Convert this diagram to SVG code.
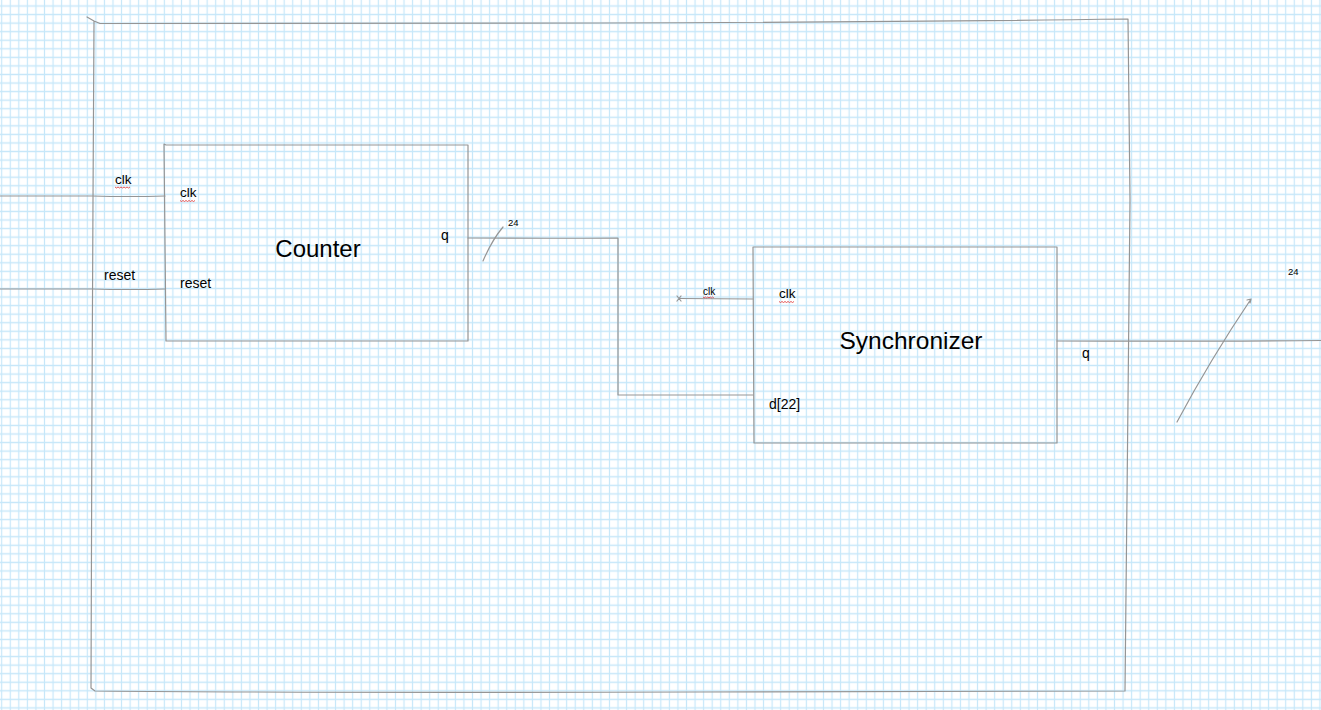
<svg xmlns="http://www.w3.org/2000/svg" width="1321" height="710" viewBox="0 0 1321 710">
<defs>
<pattern id="grid" x="-2.58" y="1.72" width="8.56" height="8.56" patternUnits="userSpaceOnUse">
<path d="M4.28 0V8.56M0 4.28H8.56" stroke="#c6e7f9" stroke-width="1.2" fill="none"/>
</pattern>
</defs>
<style>
.w{fill:none;stroke:#959595;stroke-width:1.2;stroke-linecap:round;stroke-linejoin:round}
.t{font-family:"Liberation Sans",Arial,sans-serif;fill:#000}
.sq{fill:none;stroke:#e03030;stroke-width:0.8}
</style>
<rect width="1321" height="710" fill="#fff"/>
<rect width="1321" height="710" fill="url(#grid)"/>

<g id="frame">
<path class="w" d="M87 17 L94 21 L100 23.5 Q300 24 600 23 Q900 22 1128 19 M1128 19 L1130 200 L1128 400 L1125 691 M94 21 L93 200 L92 400 L91 688 L95 691 Q300 693 700 692 Q1000 692 1125 691"/>
</g>

<g id="counter">
<path class="w" d="M164 144 L166 145 L468 145 L468 341 L166 341 Z"/>
<text class="t" x="318" y="257" font-size="24" text-anchor="middle">Counter</text>
<text class="t" x="180" y="197" font-size="13.5">clk</text>
<path class="sq" d="M180 200.5l1.5 1 1.5-1 1.5 1 1.5-1 1.5 1 1.5-1 1.5 1 1.5-1 1.5 1 1.5-1"/>
<text class="t" x="180" y="288" font-size="14">reset</text>
<text class="t" x="441" y="240" font-size="14">q</text>
</g>

<g id="synchronizer">
<path class="w" d="M753 247 L1057 247 L1057 443 L754 443 Z"/>
<text class="t" x="911" y="349" font-size="24.5" text-anchor="middle">Synchronizer</text>
<text class="t" x="779" y="298" font-size="13.5">clk</text>
<path class="sq" d="M779 301.5l1.5 1 1.5-1 1.5 1 1.5-1 1.5 1 1.5-1 1.5 1 1.5-1 1.5 1 1.5-1"/>
<text class="t" x="769" y="409" font-size="14">d[22]</text>
<text class="t" x="1082" y="358" font-size="14">q</text>
</g>

<g id="connectors">
<path class="w" d="M0 196 L92 196 Q130 197 165 196"/>
<path class="w" d="M0 289 L92 289 Q130 290 165 289"/>
<path class="w" d="M468 238 Q550 238.5 618 238 L618 395 L753 395"/>
<path class="w" d="M483 261 Q492 240 503 227"/>
<path class="w" d="M753 299 L679 298.5"/>
<path class="w" d="M677 296 L681 301 M677 301 L681 296"/>
<path class="w" d="M1057 341 Q1200 341.5 1321 340.5"/>
<path class="w" d="M1177 422 Q1210 360 1251 299 M1247 300 L1251 299 L1250 303"/>
<text class="t" x="115" y="184" font-size="13.5">clk</text>
<path class="sq" d="M115 187l1.5 1 1.5-1 1.5 1 1.5-1 1.5 1 1.5-1 1.5 1 1.5-1 1.5 1 1.5-1"/>
<text class="t" x="104" y="280" font-size="14">reset</text>
<text class="t" x="508" y="226" font-size="9.5">24</text>
<text class="t" x="703" y="294.5" font-size="10">clk</text>
<path class="sq" d="M703 297l1.2 .8 1.2-.8 1.2 .8 1.2-.8 1.2 .8 1.2-.8 1.2 .8 1.2-.8 1.2 .8"/>
<text class="t" x="1288" y="274.5" font-size="9.5">24</text>
</g>
</svg>
